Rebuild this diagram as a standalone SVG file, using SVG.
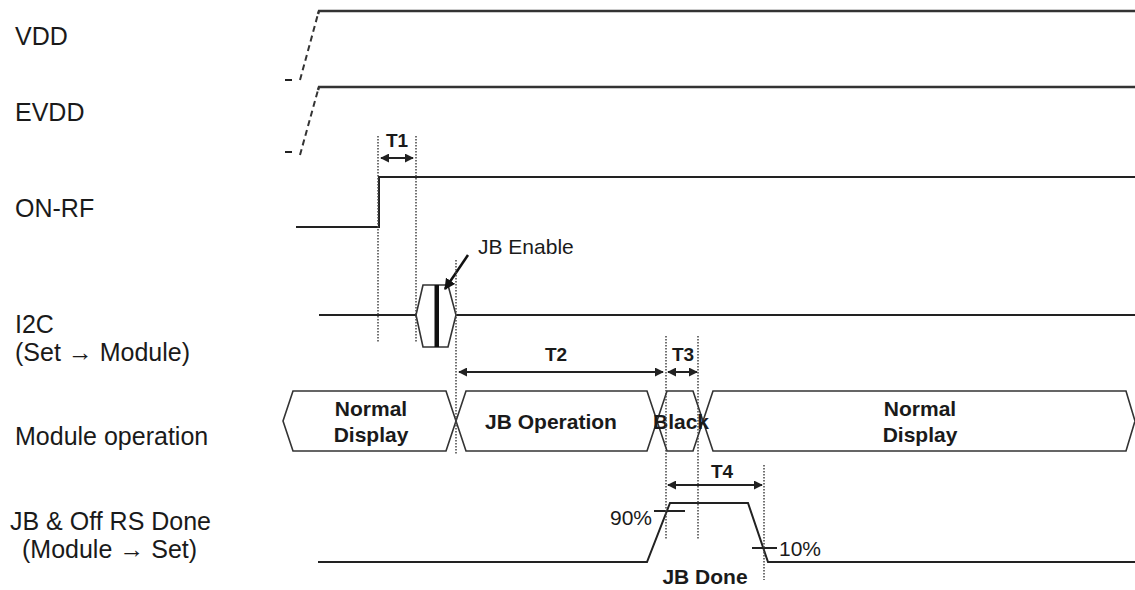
<svg xmlns="http://www.w3.org/2000/svg" width="1135" height="590" viewBox="0 0 1135 590">
<style>
.lbl{font-family:"Liberation Sans",Arial,sans-serif;font-size:25px;fill:#1a1a1a}
.bt{font-family:"Liberation Sans",Arial,sans-serif;font-size:21px;font-weight:700;fill:#1a1a1a;text-anchor:middle}
.tl{font-family:"Liberation Sans",Arial,sans-serif;font-size:19px;font-weight:700;fill:#1a1a1a;text-anchor:middle}
.sm{font-family:"Liberation Sans",Arial,sans-serif;font-size:21px;fill:#1a1a1a}
.sig{fill:none;stroke:#222;stroke-width:2}
.sigt{fill:none;stroke:#333;stroke-width:2.5}
.dash{fill:none;stroke:#333;stroke-width:2;stroke-dasharray:6 4}
.dot{fill:none;stroke:#444;stroke-width:1.5;stroke-dasharray:1.5 1.5}
.hex{fill:#fff;stroke:#333;stroke-width:1.6}
.dim{fill:none;stroke:#222;stroke-width:2;marker-start:url(#ah);marker-end:url(#ah)}
</style>
<defs>
<marker id="ah" viewBox="0 0 10 10" refX="9" refY="5" markerWidth="9" markerHeight="9" markerUnits="userSpaceOnUse" orient="auto-start-reverse">
<path d="M0,0 L10,5 L0,10 z" fill="#222"/>
</marker>
<marker id="ah2" viewBox="0 0 10 10" refX="9" refY="5" markerWidth="11" markerHeight="11" markerUnits="userSpaceOnUse" orient="auto">
<path d="M0,0 L10,5 L0,10 z" fill="#111"/>
</marker>
</defs>
<rect width="1135" height="590" fill="#fff"/>

<g id="labels">
<text class="lbl" x="15" y="45">VDD</text>
<text class="lbl" x="15" y="121">EVDD</text>
<text class="lbl" x="15" y="217">ON-RF</text>
<text class="lbl" x="15" y="333">I2C</text>
<text class="lbl" x="15" y="361">(Set → Module)</text>
<text class="lbl" x="15" y="445">Module operation</text>
<text class="lbl" x="10" y="530">JB &amp; Off RS Done</text>
<text class="lbl" x="22" y="558">(Module → Set)</text>
</g>

<g id="vdd">
<path class="dash" d="M300,80 L318,14"/>
<path class="sigt" d="M318,14 L319,11 L1135,11"/>
<path class="sig" d="M285,80 L292,80"/>
</g>
<g id="evdd">
<path class="dash" d="M300,155 L318,90"/>
<path class="sigt" d="M318,90 L319,87 L1135,87"/>
<path class="sig" d="M285,152 L292,152"/>
</g>
<g id="onrf">
<path class="sig" d="M296,227 L379,227 L379,177 L381,177 L1135,177"/>
</g>
<g id="i2c">
<path class="sig" d="M319,315 L416,315 M456,315 L1135,315"/>
<polygon class="hex" points="416,315 423,285 448,285 456,315 448,347 423,347"/>
<rect x="434.5" y="285" width="4.5" height="62" fill="#111"/>
</g>
<g id="jb-enable">
<line x1="468" y1="255" x2="445" y2="289" stroke="#111" stroke-width="2.5" marker-end="url(#ah2)"/>
<text class="sm" x="478" y="254">JB Enable</text>
</g>

<g id="module-op">
<polygon class="hex" points="283,421 293,391 446,391 456,421 446,451 293,451"/>
<polygon class="hex" points="456,421 466,391 647,391 657,421 647,451 466,451"/>
<polygon class="hex" points="657,421 667,391 693,391 703,421 693,451 667,451"/>
<polygon class="hex" points="703,421 713,391 1126,391 1135,421 1126,451 713,451"/>
<text class="bt" x="371" y="416">Normal</text>
<text class="bt" x="371" y="442">Display</text>
<text class="bt" x="551" y="429">JB Operation</text>
<text class="bt" x="681" y="429">Black</text>
<text class="bt" x="920" y="416">Normal</text>
<text class="bt" x="920" y="442">Display</text>
</g>

<g id="jb-done">
<path class="sig" d="M318,562 L647,562 L670,503 L748,503 L768,562 L1135,562"/>
<path class="sig" d="M654,511 L685,511 M752,548 L777,548"/>
<text class="sm" x="652" y="525" text-anchor="end">90%</text>
<text class="sm" x="779" y="556">10%</text>
<text class="bt" x="705" y="584">JB Done</text>
</g>

<g id="connectors">
<path class="dot" d="M378,136 L378,342 M416,136 L416,342 M456,260 L456,455 M666,336 L666,540 M698,336 L698,540 M764,465 L764,580"/>
<line class="dim" x1="381" y1="158" x2="413" y2="158"/>
<text class="tl" x="397" y="147">T1</text>
<line class="dim" x1="459" y1="372" x2="663" y2="372"/>
<text class="tl" x="556" y="361">T2</text>
<line class="dim" x1="668" y1="372" x2="697" y2="372"/>
<text class="tl" x="683" y="361">T3</text>
<line class="dim" x1="668" y1="485" x2="762" y2="485"/>
<text class="tl" x="722" y="478">T4</text>
</g>
</svg>
